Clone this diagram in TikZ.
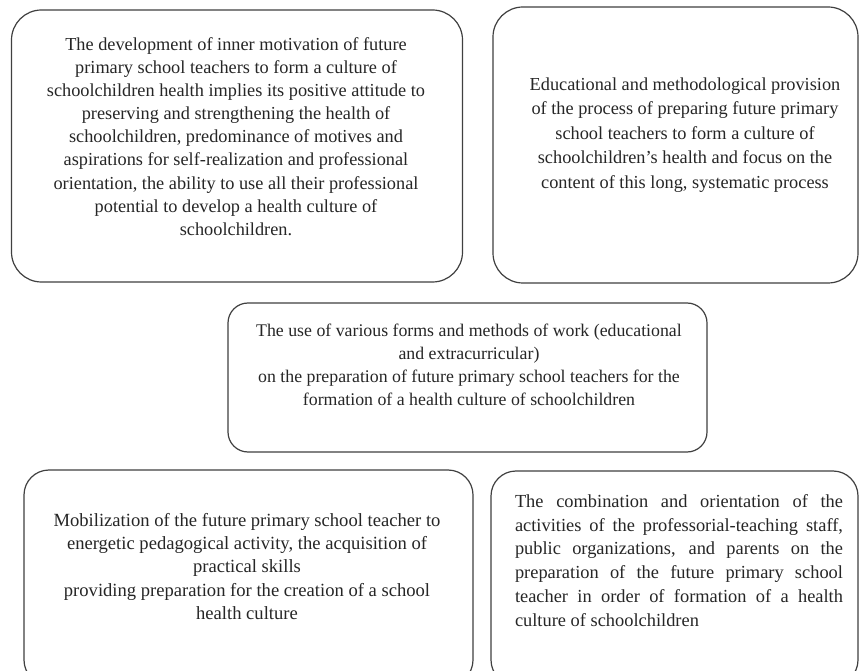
\documentclass[tikz,border=0pt]{standalone}
\usepackage{fontspec}
\setmainfont{Liberation Serif}
\begin{document}
\begin{tikzpicture}[x=1pt,y=-1pt,
  box/.style={draw=black!75,line width=1.2pt,rounded corners=#1,inner sep=0pt},
  box/.default=28pt,
  txt/.style={align=center,text=black!85,inner sep=0pt}]
\useasboundingbox (0,0) rectangle (860,671);
\fill[white] (0,0) rectangle (860,671);
\node[box=30pt,minimum width=451pt,minimum height=272pt] (b1) at (237,146) {};
\node[box=30pt,minimum width=365pt,minimum height=276pt] (b2) at (675.5,145) {};
\node[box=20pt,minimum width=479pt,minimum height=149pt] (b3) at (467.5,377.5) {};
\node[box=25pt,minimum width=449pt,minimum height=215pt] (b4) at (248.5,577.5) {};
\node[box=25pt,minimum width=367pt,minimum height=214pt] (b5) at (674.5,578) {};
\node[txt,font=\fontsize{18.3}{23.1}\selectfont] (t1) at (236,136.5) {The development of inner motivation of future\\
primary school teachers to form a culture of\\
schoolchildren health implies its positive attitude to\\
preserving and strengthening the health of\\
schoolchildren, predominance of motives and\\
aspirations for self-realization and professional\\
orientation, the ability to use all their professional\\
potential to develop a health culture of\\
schoolchildren.};
\node[txt,font=\fontsize{18.3}{24.5}\selectfont] (t2) at (685,135) {Educational and methodological provision\\
of the process of preparing future primary\\
school teachers to form a culture of\\
schoolchildren's health and focus on the\\
content of this long, systematic process};
\node[txt,font=\fontsize{17.8}{23}\selectfont] (t3) at (469,364.5) {The use of various forms and methods of work (educational\\
and extracurricular)\\
on the preparation of future primary school teachers for the\\
formation of a health culture of schoolchildren};
\node[txt,font=\fontsize{18.6}{23.25}\selectfont] (t4) at (247,566.5) {Mobilization of the future primary school teacher to\\
energetic pedagogical activity, the acquisition of\\
practical skills\\
providing preparation for the creation of a school\\
health culture};
\node[txt,font=\fontsize{18.4}{23.8}\selectfont,align=justify,text width=328pt] (t5) at (679,560.5) {The combination and orientation of the\linebreak
activities of the professorial-teaching staff,\linebreak
public organizations, and parents on the\linebreak
preparation of the future primary school\linebreak
teacher in order of formation of a health\linebreak
culture of schoolchildren};
\end{tikzpicture}
\end{document}
